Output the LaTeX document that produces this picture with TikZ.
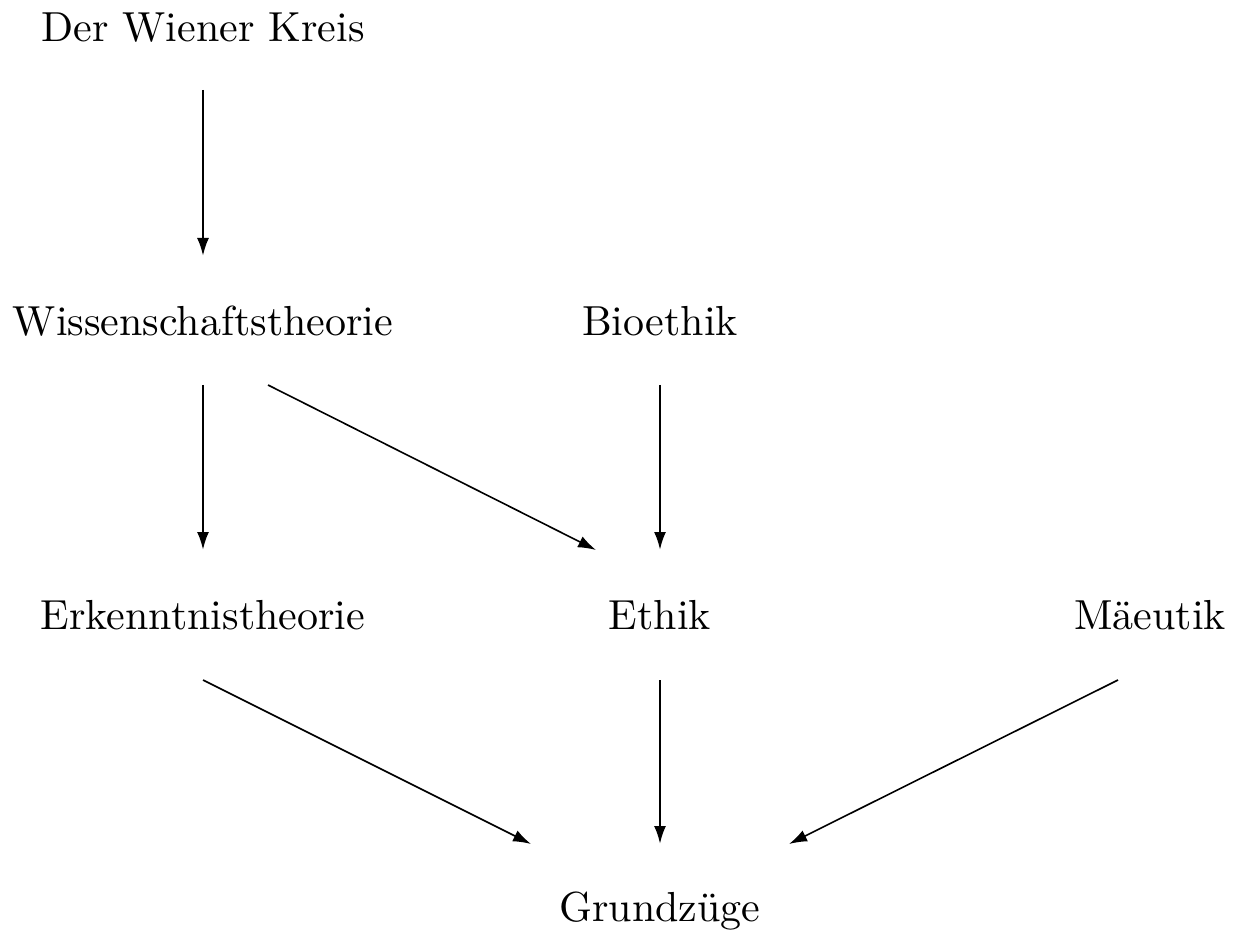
\documentclass[tikz,border=0pt]{standalone}
\usetikzlibrary{arrows.meta}
\font\lmbig="[lmroman10-regular]" at 21pt
\begin{document}
\begin{tikzpicture}[x=0.5pt,y=-0.5pt,
  lbl/.style={anchor=base,inner sep=0pt,font=\lmbig},
  vconn/.style={-{Latex[length=9pt,width=6pt]},line width=1.2pt},
  dconn/.style={-{Latex[length=9pt,width=6pt]},line width=0.8pt}]
\useasboundingbox (0,0) rectangle (1236,930);
\node[lbl] (wk) at (203,42) {Der Wiener Kreis};
\node[lbl] (ws) at (203,335.5) {Wissenschaftstheorie};
\node[lbl] (bio) at (660,335.5) {Bioethik};
\node[lbl] (erk) at (203,629) {Erkenntnistheorie};
\node[lbl] (eth) at (660,629) {Ethik};
\node[lbl] (mae) at (1150,629) {Mäeutik};
\node[lbl] (gz) at (660,921) {Grundzüge};
% connector end points
\coordinate (wk-s) at (203,90);
\coordinate (ws-n) at (203,256);
\coordinate (ws-s) at (203,385);
\coordinate (ws-se) at (268,385);
\coordinate (bio-s) at (660,385);
\coordinate (erk-n) at (203,550);
\coordinate (eth-nw) at (596,550);
\coordinate (eth-n) at (660,550);
\coordinate (erk-s) at (203,680);
\coordinate (eth-s) at (660,680);
\coordinate (mae-s) at (1118,680);
\coordinate (gz-nw) at (531,844);
\coordinate (gz-n) at (660,844);
\coordinate (gz-ne) at (789,844);
\draw[vconn] (wk-s) -- (ws-n);
\draw[vconn] (ws-s) -- (erk-n);
\draw[dconn] (ws-se) -- (eth-nw);
\draw[vconn] (bio-s) -- (eth-n);
\draw[dconn] (erk-s) -- (gz-nw);
\draw[vconn] (eth-s) -- (gz-n);
\draw[dconn] (mae-s) -- (gz-ne);
\end{tikzpicture}
\end{document}
